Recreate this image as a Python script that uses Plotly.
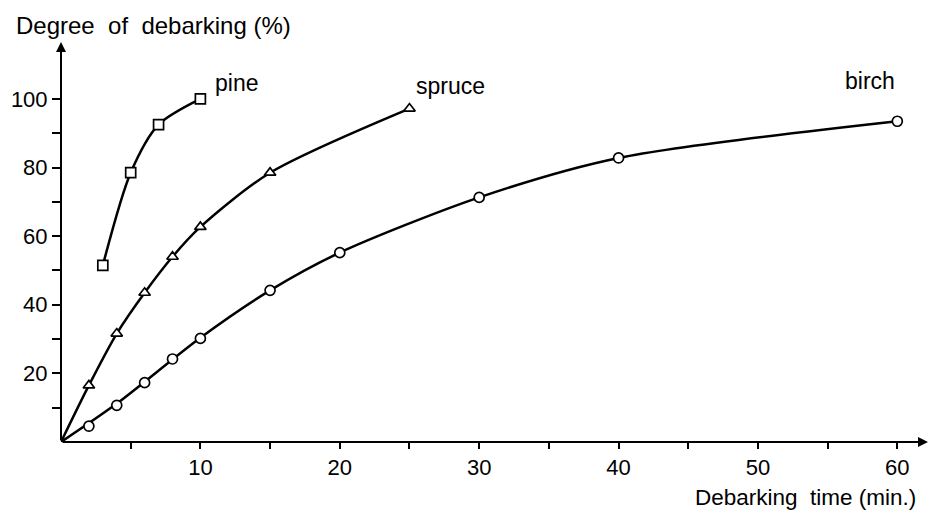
import plotly.graph_objects as go

# Data
pine_x = [3, 5, 7, 10]
pine_y = [51.5, 78.5, 92.5, 100]

spruce_x = [2, 4, 6, 8, 10, 15, 25]
spruce_y = [16.5, 31.6, 43.5, 54, 62.7, 78.5, 97.2]
spruce_curve_x = [0, 2, 4, 6, 8, 10, 15, 25]
spruce_curve_y = [0, 16.5, 31.6, 43.5, 54, 62.7, 78.5, 97.2]

birch_x = [2, 4, 6, 8, 10, 15, 20, 30, 40, 60]
birch_y = [4.6, 10.7, 17.3, 24.2, 30.2, 44.2, 55.2, 71.3, 82.8, 93.5]
birch_curve_x = [0, 4, 10, 15, 20, 30, 40, 60]
birch_curve_y = [0, 11.2, 30.4, 44.2, 55.2, 71.3, 82.8, 93.5]

x_tick_vals = [5, 10, 15, 20, 25, 30, 35, 40, 45, 50, 55, 60]
x_tick_text = ["", "10", "", "20", "", "30", "", "40", "", "50", "", "60"]
y_tick_vals = [10, 20, 30, 40, 50, 60, 70, 80, 90, 100]
y_tick_text = ["", "20", "", "40", "", "60", "", "80", "", "100"]

NB = "\u00a0"
y_title = "Degree" + NB * 2 + "of" + NB * 2 + "debarking (%)"
x_title = "Debarking" + NB + " time (min.)"

FONT = "Liberation Sans, Arial, sans-serif"
LW = 2.5

W, H = 929, 513
ML, MR, MT, MB = 61, 1, 42, 71
pw, ph = W - ML - MR, H - MT - MB

fig = go.Figure()

def add_series(cx, cy, mx, my, symbol):
    fig.add_trace(go.Scatter(x=cx, y=cy, mode="lines",
                             line=dict(color="black", width=LW, shape="spline", smoothing=0.8),
                             hoverinfo="skip", showlegend=False))
    fig.add_trace(go.Scatter(x=mx, y=my, mode="markers",
                             marker=dict(symbol=symbol, size=10, color="white",
                                         line=dict(color="black", width=1.7)),
                             showlegend=False))

add_series(pine_x, pine_y, pine_x, pine_y, "square")
add_series(spruce_curve_x, spruce_curve_y, spruce_x, spruce_y, "triangle-up")
add_series(birch_curve_x, birch_curve_y, birch_x, birch_y, "circle")

X_MAX = 62.2
Y_MAX = 116.6

fig.update_xaxes(range=[0, X_MAX], showgrid=False, zeroline=False, showline=False,
                 tickmode="array", tickvals=x_tick_vals, ticktext=x_tick_text,
                 ticks="outside", ticklen=6, tickwidth=2, tickcolor="black",
                 tickfont=dict(family=FONT, size=22, color="black"))
fig.update_yaxes(range=[0, Y_MAX], showgrid=False, zeroline=False, showline=False,
                 tickmode="array", tickvals=y_tick_vals, ticktext=y_tick_text,
                 ticks="outside", ticklen=8, tickwidth=2, tickcolor="black",
                 tickfont=dict(family=FONT, size=22, color="black"))

# axis lines with arrows
fig.add_annotation(x=X_MAX, y=0, ax=0, ay=0, xref="x", yref="y", axref="x", ayref="y",
                   showarrow=True, arrowhead=2, arrowsize=1, arrowwidth=2, arrowcolor="black", text="")
fig.add_annotation(x=0, y=Y_MAX, ax=0, ay=0, xref="x", yref="y", axref="x", ayref="y",
                   showarrow=True, arrowhead=2, arrowsize=1, arrowwidth=2, arrowcolor="black", text="")

labels = [("pine", 10.9, 104.6), ("spruce", 25.3, 103.7), ("birch", 56.1, 105.1)]
for t, lx, ly in labels:
    fig.add_annotation(x=lx, y=ly, xref="x", yref="y", text=t, showarrow=False,
                       xanchor="left", yanchor="middle",
                       font=dict(family=FONT, size=23, color="black"))

fig.add_annotation(x=(14 - ML) / pw, y=(H - MB - 26) / ph, xref="paper", yref="paper",
                   text=y_title, showarrow=False, xanchor="left", yanchor="middle",
                   font=dict(family=FONT, size=24, color="black"))
fig.add_annotation(x=(918 - ML) / pw, y=(H - MB - 497) / ph, xref="paper", yref="paper",
                   text=x_title, showarrow=False, xanchor="right", yanchor="middle",
                   font=dict(family=FONT, size=22.5, color="black"))

fig.update_layout(width=W, height=H, margin=dict(l=ML, r=MR, t=MT, b=MB),
                  plot_bgcolor="white", paper_bgcolor="white", showlegend=False)

fig.write_html("out.html", config={"displayModeBar": False},
               post_script="document.body.style.margin='0';document.body.style.overflow='hidden';")
